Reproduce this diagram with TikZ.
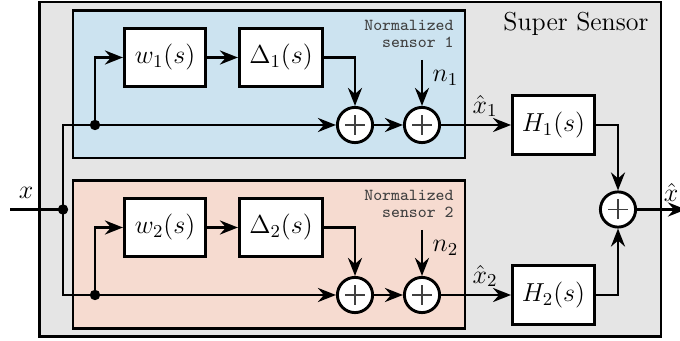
\RequirePackage{fix-cm}
\documentclass[tikz,border=0pt]{standalone}
\usetikzlibrary{arrows.meta}
\definecolor{ssgray}{RGB}{229,229,229}
\definecolor{ssblue}{RGB}{204,227,240}
\definecolor{sspink}{RGB}{246,219,208}
\begin{document}
\begin{tikzpicture}[x=0.5pt,y=-0.5pt, line width=1.45pt,
  >={Stealth[length=9pt,width=7pt,inset=3pt]},
  every node/.style={font=\fontsize{13}{15}\selectfont},
  blk/.style={draw, fill=white, minimum height=29.1pt, inner sep=0pt},
  sumnode/.style={circle, draw, fill=white, minimum size=17.6pt, inner sep=0pt,
    path picture={\draw[line width=0.6pt, black!75]
      ([xshift=-5pt]path picture bounding box.center) -- ([xshift=5pt]path picture bounding box.center)
      ([yshift=-5pt]path picture bounding box.center) -- ([yshift=5pt]path picture bounding box.center);}},
  jdot/.style={circle, fill, draw=none, inner sep=0pt, minimum size=5.2pt},
  nlabel/.style={font=\fontsize{8.4}{8.6}\selectfont\ttfamily, text=black!75, align=right, anchor=north east, inner sep=0pt}
]
\useasboundingbox (0,0) rectangle (680,341);
% regions
\filldraw[fill=ssgray] (39.5,2) rectangle (661,336.5);
\filldraw[fill=ssblue] (73,10.5) rectangle (465,158);
\filldraw[fill=sspink] (73,180.5) rectangle (465,328.5);
\node[anchor=base east, inner sep=0pt] (ss) at (650,31) {Super Sensor};
\node[nlabel] (lab1) at (455,18.7) {Normalized\\sensor 1};
\node[nlabel] (lab2) at (455,188.7) {Normalized\\sensor 2};
% row 1
\node[blk, minimum width=40.6pt] (w1) at (165,57.5) {$w_1(s)$};
\node[blk, minimum width=41.6pt] (d1) at (281,57.5) {$\Delta_1(s)$};
\node[sumnode] (s1a) at (355,125) {};
\node[sumnode] (s1b) at (422,125) {};
\coordinate (n1) at (422,60);
\node[blk, minimum width=41pt] (h1) at (553.5,125) {$H_1(s)$};
% row 2
\node[blk, minimum width=40.6pt] (w2) at (165,227.5) {$w_2(s)$};
\node[blk, minimum width=41.6pt] (d2) at (281,227.5) {$\Delta_2(s)$};
\node[sumnode] (s2a) at (355,295) {};
\node[sumnode] (s2b) at (422,295) {};
\coordinate (n2) at (422,230);
\node[blk, minimum width=41pt] (h2) at (553.5,295) {$H_2(s)$};
% final sum and junctions
\node[sumnode] (sf) at (618,209.5) {};
\coordinate (in) at (10,209.5);
\coordinate (out) at (686,209.5);
\node[jdot] (j0) at (63,209.5) {};
\node[jdot] (j1) at (95,125) {};
\node[jdot] (j2) at (95,295) {};
% connectors
\draw (in) -- (j0.center);
\draw[->] (j0.center) |- (s1a.west);
\draw[->] (j0.center) |- (s2a.west);
\draw[->] (j1.center) |- (w1.west);
\draw[->] (j2.center) |- (w2.west);
\draw[->] (w1) -- (d1);
\draw[->] (w2) -- (d2);
\draw[->] (d1.east) -| (s1a.north);
\draw[->] (d2.east) -| (s2a.north);
\draw[->] (s1a) -- (s1b);
\draw[->] (s2a) -- (s2b);
\draw[->] (n1) -- (s1b.north);
\draw[->] (n2) -- (s2b.north);
\draw[->] (s1b) -- (h1);
\draw[->] (s2b) -- (h2);
\draw[->] (h1.east) -| (sf.north);
\draw[->] (h2.east) -| (sf.south);
\draw[->] (sf) -- (out);
% labels
\node (lx) at (26,193) {$x$};
\node (lxh) at (671,192) {$\hat{x}$};
\node (lx1) at (485,106) {$\hat{x}_1$};
\node (lx2) at (485,276) {$\hat{x}_2$};
\node (ln1) at (445.5,77.5) {$n_1$};
\node (ln2) at (445.5,247.5) {$n_2$};
\end{tikzpicture}
\end{document}
